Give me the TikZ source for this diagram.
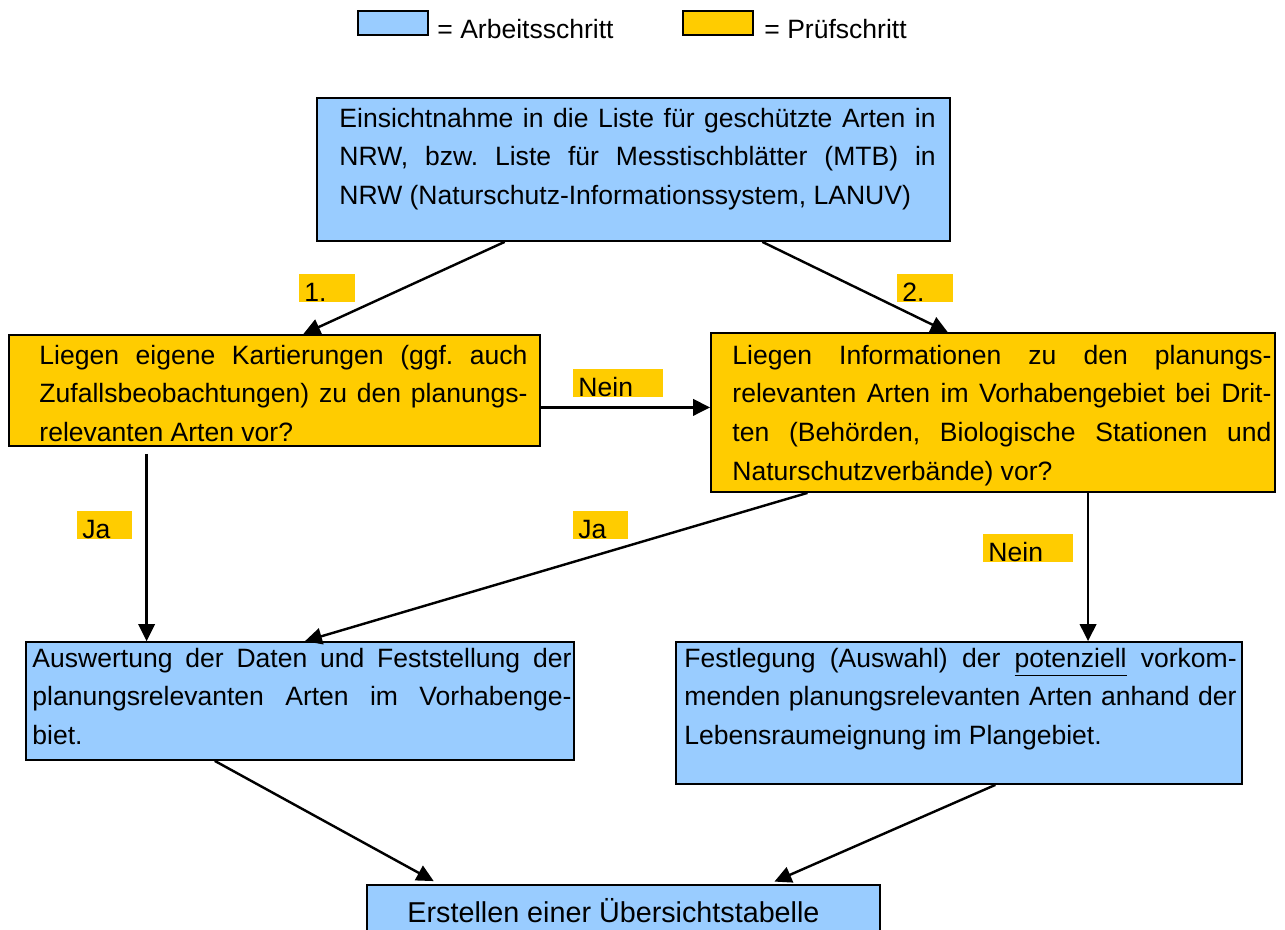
\documentclass[tikz,border=0pt]{standalone}
\usepackage{fontspec}
\setmainfont{Liberation Sans}
\usetikzlibrary{arrows.meta, positioning, calc, fit}
\definecolor{arbeit}{HTML}{99CCFF}
\definecolor{pruef}{HTML}{FFCC00}
\frenchspacing
\tikzset{
  stepbox/.style={draw=black, line width=0.8pt, inner sep=0pt},
  boxtext/.style={inner sep=0pt, anchor=base west, align=justify, font=\fontsize{12}{17.6}\selectfont},
  flag/.style={fill=pruef, inner xsep=0.08cm, inner ysep=0pt, text depth=0pt, text height=0.445cm,
    anchor=south west, align=left, font=\fontsize{12}{14}\selectfont},
  flow/.style={-{Triangle[length=0.27cm, width=0.26cm]}, line width=1.1pt}
}

\begin{document}
\begin{tikzpicture}[x=0.0159cm, y=-0.0159cm]
  \useasboundingbox (0,0) rectangle (1285,929);

  % legend
  \node[stepbox, fill=arbeit, fit={(358,11) (428,35)}] (legA) {};
  \node[boxtext, align=left] (legAtxt) at (437,38) {= Arbeitsschritt};
  \node[stepbox, fill=pruef, fit={(683,11) (753,35)}] (legP) {};
  \node[boxtext, align=left] (legPtxt) at (764,38) {= Prüfschritt};

  % boxes
  \node[stepbox, fill=arbeit, fit={(317,98) (950,241)}] (aBox) {};
  \node[stepbox, fill=pruef, fit={(9,335) (540,446)}] (bBox) {};
  \node[stepbox, fill=pruef, fit={(711,333) (1275,492)}] (cBox) {};
  \node[stepbox, fill=arbeit, fit={(26,642) (574,760)}] (dBox) {};
  \node[stepbox, fill=arbeit, fit={(676,642) (1242,784)}] (eBox) {};
  \node[stepbox, fill=arbeit, fit={(367,885) (880,950)}] (fBox) {};

  \node[boxtext, text width=9.48cm] (aTxt) at (339,127)
    {Einsichtnahme in die Liste für geschützte Arten in\linebreak
     NRW, bzw. Liste für Messtischblätter (MTB) in\linebreak
     NRW (Naturschutz-Informationssystem, LANUV)};
  \node[boxtext, text width=7.76cm] (bTxt) at (39,364)
    {Liegen eigene Kartierungen (ggf. auch\linebreak
     Zufallsbeobachtungen) zu den planungs-\linebreak
     relevanten Arten vor?};
  \node[boxtext, text width=8.57cm] (cTxt) at (732,364)
    {Liegen Informationen zu den planungs-\linebreak
     relevanten Arten im Vorhabengebiet bei Drit-\linebreak
     ten (Behörden, Biologische Stationen und\linebreak
     Naturschutzverbände) vor?};
  \node[boxtext, text width=8.57cm] (dTxt) at (32,667)
    {Auswertung der Daten und Feststellung der\linebreak
     planungsrelevanten Arten im Vorhabenge-\linebreak
     biet.};
  \node[boxtext, text width=8.78cm] (eTxt) at (684,667)
    {Festlegung (Auswahl) der \underline{potenziell} vorkom-\linebreak
     menden planungsrelevanten Arten anhand der\linebreak
     Lebensraumeignung im Plangebiet.};
  \node[boxtext, align=left, font=\fontsize{13}{16}\selectfont] (fTxt) at (407,922)
    {Erstellen einer Übersichtstabelle};

  % connectors
  \draw[flow] ($(aBox.south west)!0.297!(aBox.south east)$) -- ($(bBox.north west)!0.554!(bBox.north east)$);
  \draw[flow] ($(aBox.south west)!0.703!(aBox.south east)$) -- ($(cBox.north west)!0.42!(cBox.north east)$);
  \coordinate (bNein) at ($(bBox.north east)!0.65!(bBox.south east)$);
  \draw[flow] (bNein) -- (bNein -| cBox.west);
  \coordinate (bJa) at ($(bBox.south west)!0.26!(bBox.south east)$);
  \draw[flow, shorten <=0.11cm] (bJa) -- (bJa |- dBox.north);
  \draw[flow] ($(cBox.south west)!0.172!(cBox.south east)$) -- ($(dBox.north west)!0.509!(dBox.north east)$);
  \coordinate (cNein) at ($(cBox.south west)!0.668!(cBox.south east)$);
  \draw[flow] (cNein) -- (cNein |- eBox.north);
  \draw[flow, shorten >=0.1cm] ($(dBox.south west)!0.345!(dBox.south east)$) -- ($(fBox.north west)!0.142!(fBox.north east)$);
  \draw[flow, shorten >=0.1cm] ($(eBox.south west)!0.564!(eBox.south east)$) -- ($(fBox.north west)!0.782!(fBox.north east)$);

  % labels
  \node[flag, text width=0.716cm] (l1) at (299,302) {1.};
  \node[flag, text width=0.716cm] (l2) at (897,302) {2.};
  \node[flag, text width=1.256cm] (lNeinB) at (573,397) {Nein};
  \node[flag, text width=0.70cm] (lJaB) at (77,539) {Ja};
  \node[flag, text width=0.70cm] (lJaC) at (573,539) {Ja};
  \node[flag, text width=1.256cm] (lNeinC) at (983,562) {Nein};
\end{tikzpicture}
\end{document}
